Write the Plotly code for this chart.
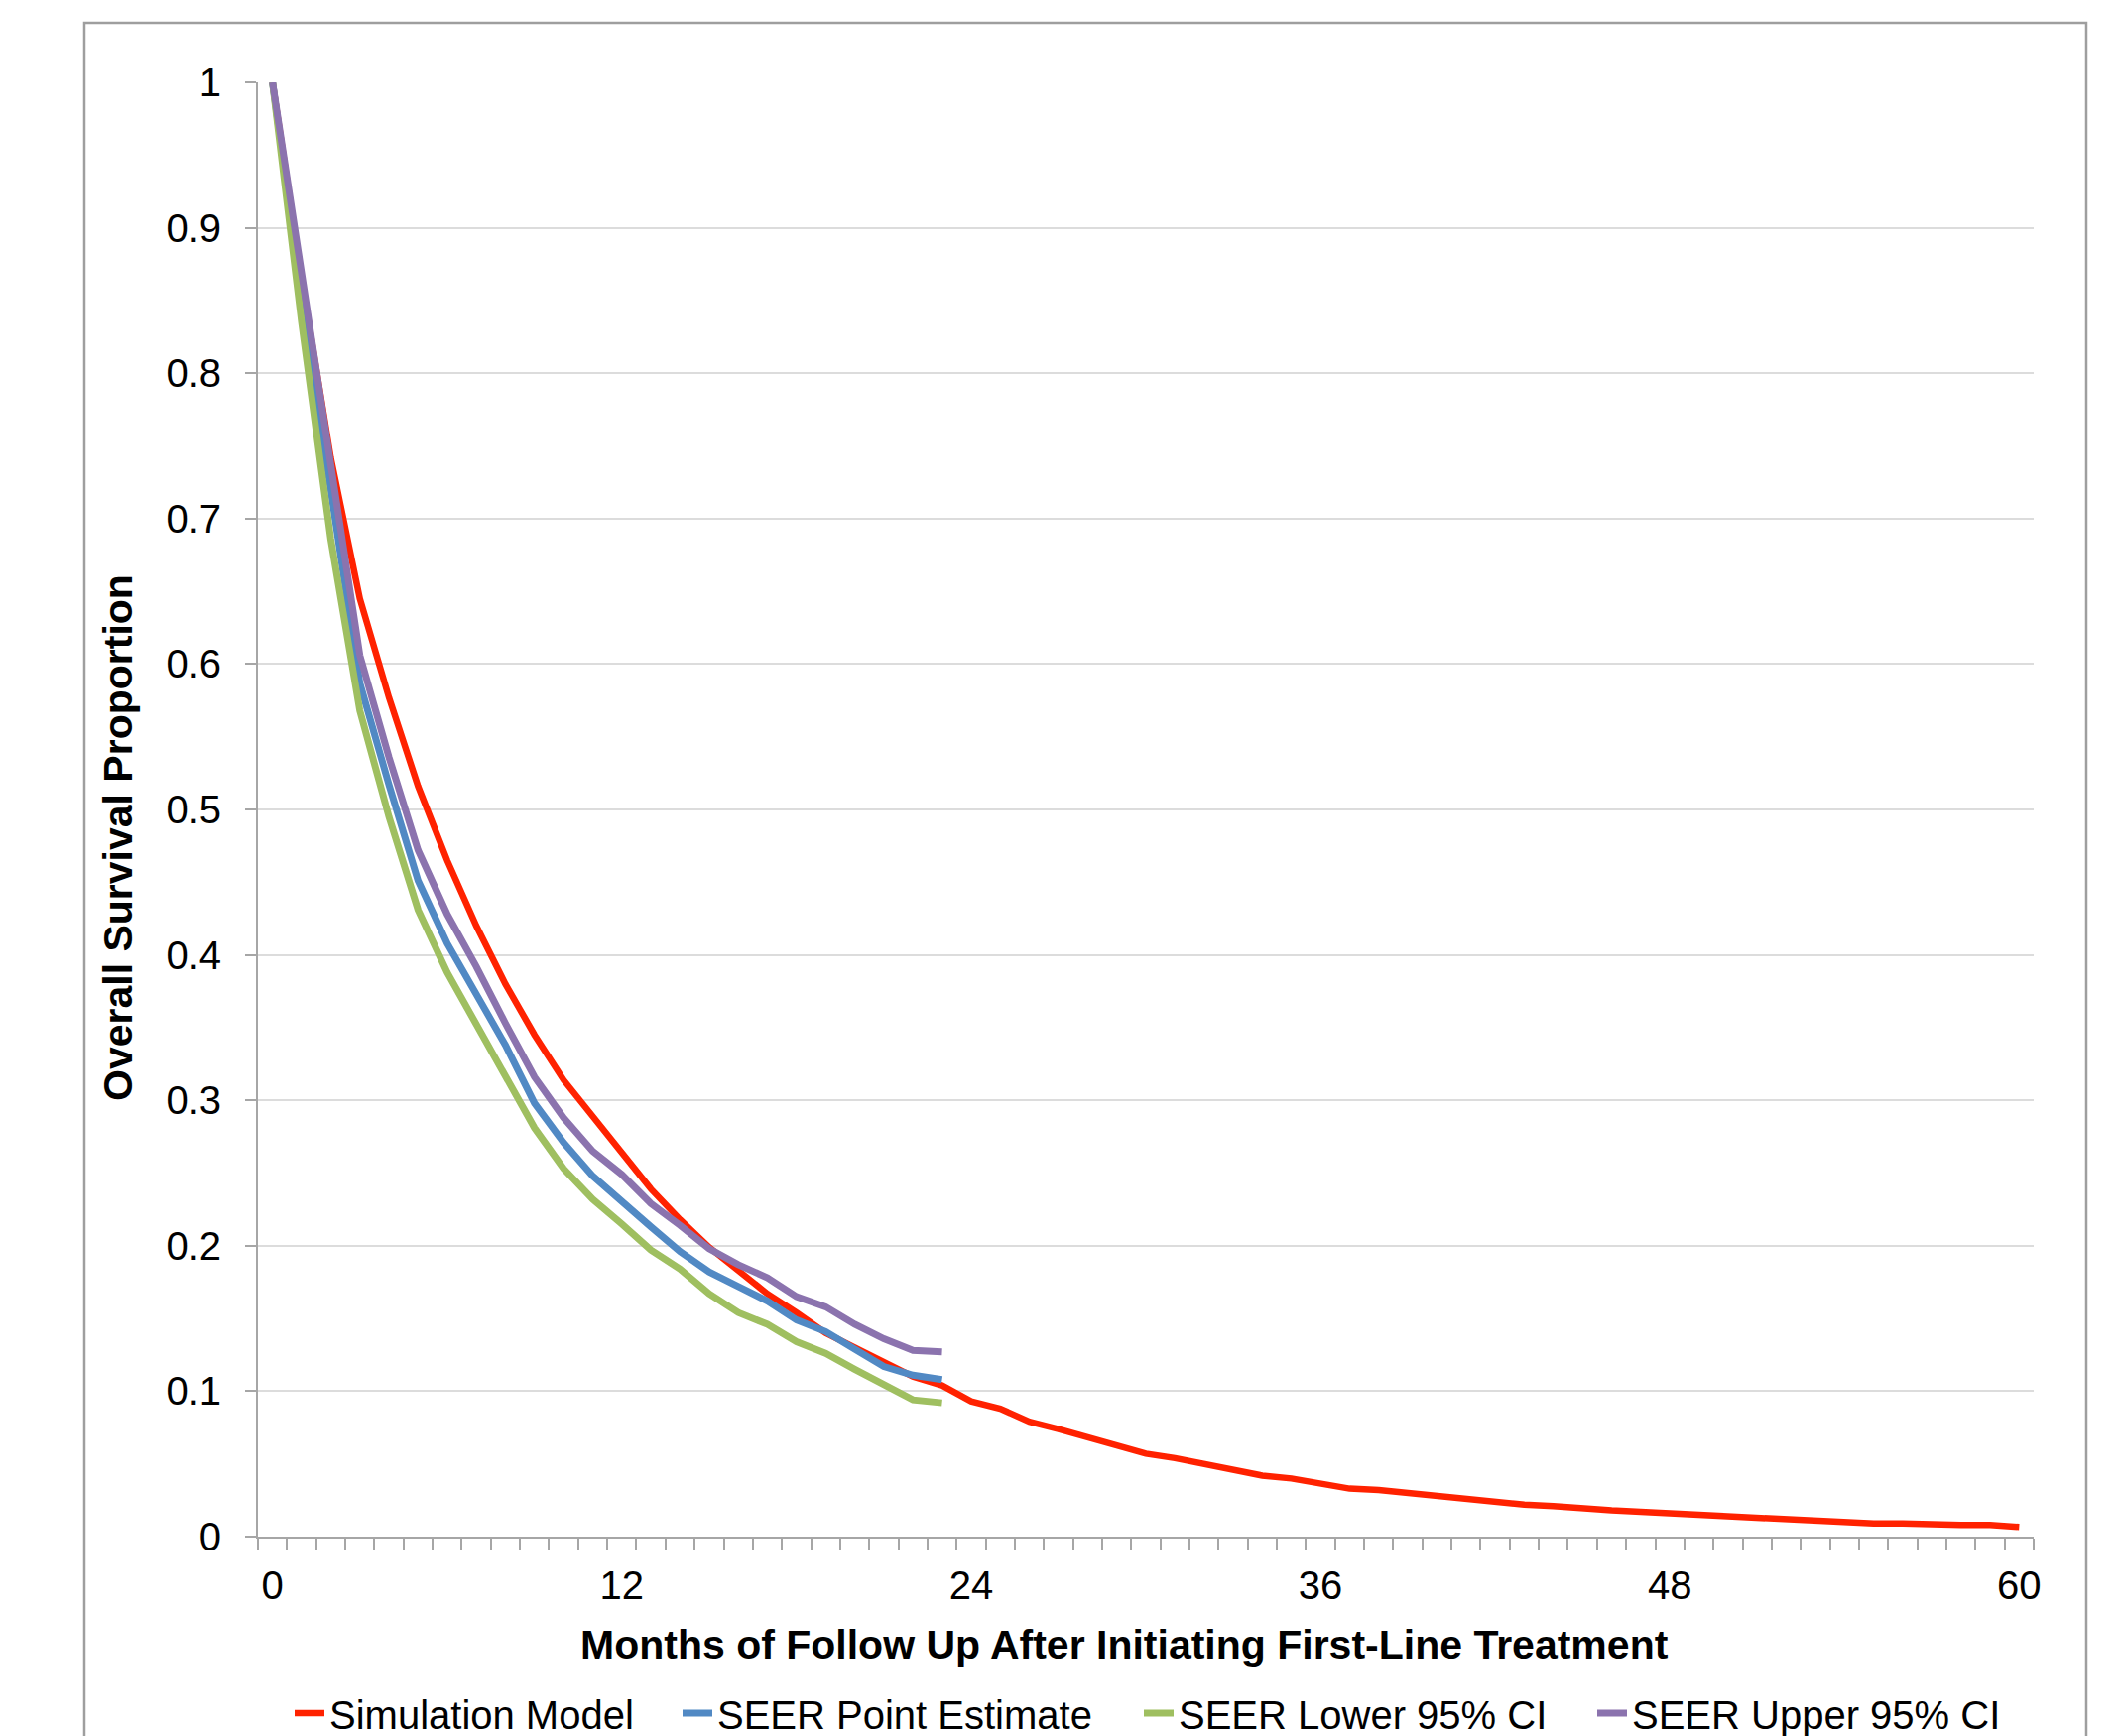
import plotly.graph_objects as go

# ---------------- data ----------------
months_sim = list(range(0, 61))
sim_model = [1.0, 0.865, 0.742, 0.645, 0.577, 0.516, 0.465, 0.420, 0.380, 0.345,
             0.314, 0.289, 0.264, 0.239, 0.218, 0.199, 0.183, 0.167, 0.154, 0.140,
             0.130, 0.120, 0.110, 0.104, 0.093, 0.088, 0.079, 0.074, 0.068, 0.063,
             0.057, 0.054, 0.050, 0.046, 0.042, 0.040, 0.037, 0.033, 0.032, 0.030,
             0.027, 0.026, 0.023, 0.022, 0.021, 0.019, 0.018, 0.017, 0.016, 0.015,
             0.013, 0.013, 0.012, 0.010, 0.010, 0.009, 0.009, 0.008, 0.008, 0.008,
             0.0066]

months_seer = list(range(0, 24))
seer_point = [1.0, 0.853, 0.720, 0.587, 0.517, 0.451, 0.408, 0.373, 0.338, 0.298,
              0.271, 0.248, 0.230, 0.213, 0.196, 0.182, 0.172, 0.162, 0.149, 0.141,
              0.129, 0.117, 0.111, 0.108]
seer_lower = [1.0, 0.835, 0.686, 0.568, 0.495, 0.431, 0.388, 0.353, 0.318, 0.281,
              0.253, 0.232, 0.215, 0.197, 0.184, 0.167, 0.154, 0.146, 0.134, 0.126,
              0.115, 0.104, 0.094, 0.092]
seer_upper = [1.0, 0.870, 0.736, 0.606, 0.536, 0.472, 0.428, 0.392, 0.353, 0.316,
              0.288, 0.265, 0.249, 0.229, 0.214, 0.198, 0.187, 0.178, 0.165, 0.158,
              0.146, 0.136, 0.128, 0.127]

x_tick_vals = [0, 12, 24, 36, 48, 60]
y_tick_vals = [0, 0.1, 0.2, 0.3, 0.4, 0.5, 0.6, 0.7, 0.8, 0.9, 1]
y_tick_text = ["0", "0.1", "0.2", "0.3", "0.4", "0.5", "0.6", "0.7", "0.8", "0.9", "1"]

series_names = ["Simulation Model", "SEER Point Estimate", "SEER Lower 95% CI", "SEER Upper 95% CI"]
x_title = "Months of Follow Up After Initiating First-Line Treatment"
y_title = "Overall Survival Proportion"

# ---------------- layout geometry ----------------
OFF = 8                       # default page body margin
W, H = 2143 - OFF, 1750 - OFF
# targets in page pixels, converted to figure pixels
L, R = 260 - OFF, 2050 - OFF   # plot area left/right
T, B = 83 - OFF, 1549 - OFF    # plot area top/bottom
PW, PH = R - L, B - T


def px(xp):
    return (xp - OFF - L) / PW


def py(yp):
    return (B - (yp - OFF)) / PH


FONT = "Liberation Sans, Arial, sans-serif"
AXIS_GRAY = "#a6a6a6"

fig = go.Figure()

fig.add_trace(go.Scatter(x=months_sim, y=sim_model, mode="lines", name=series_names[0],
                         line=dict(color="#ff2200", width=6.5), legend="legend",
                         showlegend=True))
fig.add_trace(go.Scatter(x=months_seer, y=seer_point, mode="lines", name=series_names[1],
                         line=dict(color="#5189c4", width=7), legend="legend2",
                         showlegend=True))
fig.add_trace(go.Scatter(x=months_seer, y=seer_lower, mode="lines", name=series_names[2],
                         line=dict(color="#9fbf60", width=7), legend="legend3",
                         showlegend=True))
fig.add_trace(go.Scatter(x=months_seer, y=seer_upper, mode="lines", name=series_names[3],
                         line=dict(color="#8b73ae", width=7), legend="legend4",
                         showlegend=True))

legend_common = dict(orientation="h", xanchor="left", yanchor="middle", y=py(1727),
                     font=dict(family=FONT, size=40, color="#000000"),
                     bgcolor="rgba(0,0,0,0)", itemwidth=30, borderwidth=0,
                     visible=True)

fig.update_layout(
    width=W, height=H,
    showlegend=True,
    margin=dict(l=L, r=W - R, t=T, b=H - B, pad=0, autoexpand=False),
    paper_bgcolor="white", plot_bgcolor="white",
    font=dict(family=FONT, size=40, color="#000000"),
    legend=dict(x=px(292), **legend_common),
    legend2=dict(x=px(683), **legend_common),
    legend3=dict(x=px(1148), **legend_common),
    legend4=dict(x=px(1605), **legend_common),
    xaxis=dict(range=[-0.5, 60.5], tickmode="array", tickvals=x_tick_vals,
               ticktext=[str(v) for v in x_tick_vals], ticks="", showgrid=False,
               zeroline=False, showline=True, linecolor=AXIS_GRAY, linewidth=2,
               tickfont=dict(family=FONT, size=40, color="#000000"),
               ticklabelstandoff=13, automargin=False,
               minor=dict(tick0=-0.5, dtick=1, ticks="outside", ticklen=12,
                          tickcolor=AXIS_GRAY, tickwidth=2, showgrid=False)),
    yaxis=dict(range=[0, 1], tickmode="array", tickvals=y_tick_vals, ticktext=y_tick_text,
               ticks="outside", ticklen=11, tickcolor=AXIS_GRAY, tickwidth=2,
               showgrid=True, gridcolor="#dcdcdc", gridwidth=2, zeroline=False,
               showline=True, linecolor=AXIS_GRAY, linewidth=2,
               tickfont=dict(family=FONT, size=40, color="#000000"),
               ticklabelstandoff=16, automargin=False),
    shapes=[dict(type="rect", xref="paper", yref="paper",
                 x0=px(85), x1=px(2103), y0=py(1770), y1=py(23),
                 line=dict(color="#9e9e9e", width=2.5), fillcolor="rgba(0,0,0,0)",
                 layer="below")],
    annotations=[
        dict(text="<b>" + x_title + "</b>", xref="paper", yref="paper",
             x=px(1133), y=py(1658), xanchor="center", yanchor="middle",
             showarrow=False, font=dict(family=FONT, size=41, color="#000000")),
        dict(text="<b>" + y_title + "</b>", xref="paper", yref="paper",
             x=px(119), y=py(845), xanchor="center", yanchor="middle", textangle=-90,
             showarrow=False, font=dict(family=FONT, size=41, color="#000000")),
    ],
)

fig.write_html("out.html")
